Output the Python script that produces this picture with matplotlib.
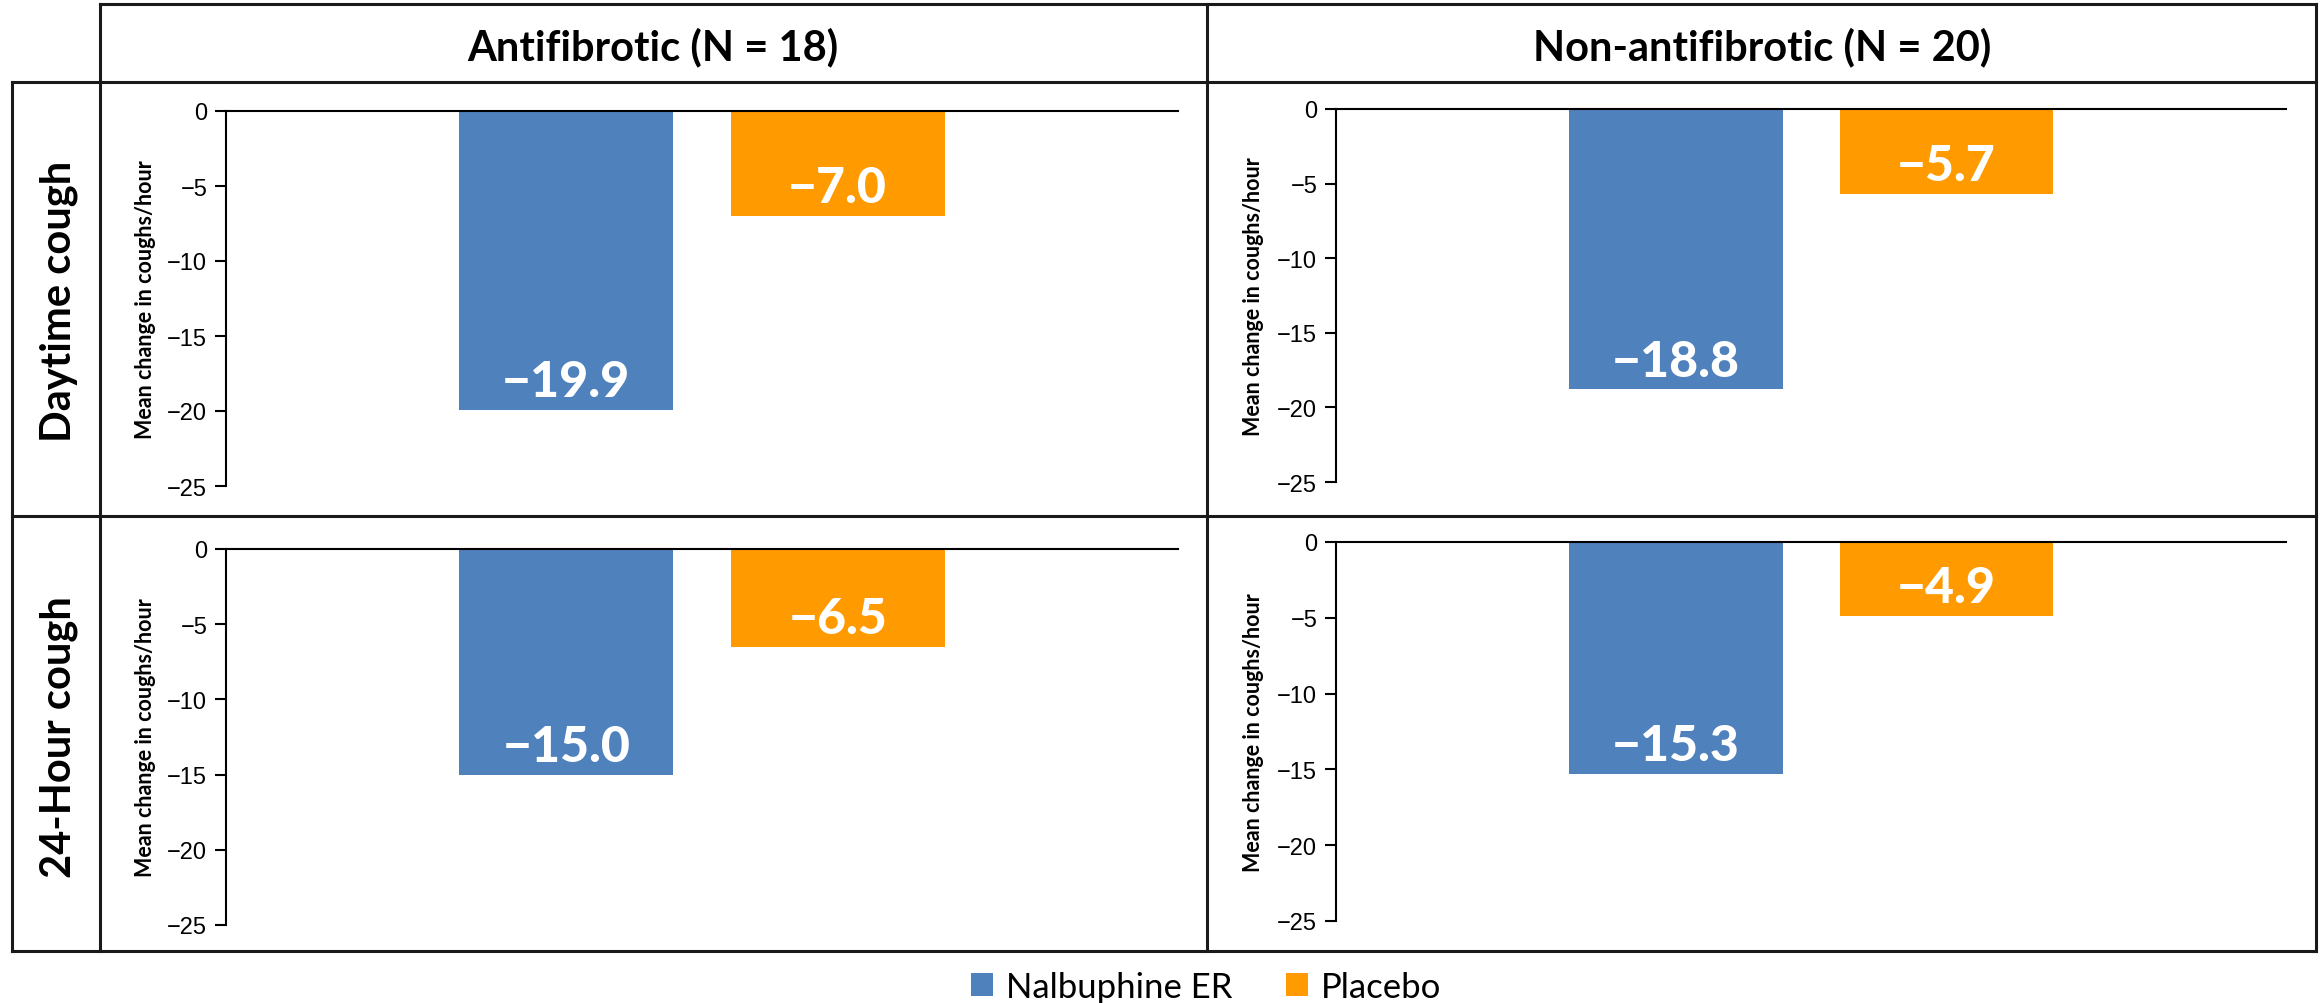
import matplotlib.pyplot as plt
from matplotlib.lines import Line2D
from matplotlib.patches import Patch

# canvas size in pixels (dpi 100)
W, H = 2323, 1004

groups = ["Antifibrotic (N = 18)", "Non-antifibrotic (N = 20)"]
endpoints = ["Daytime cough", "24-Hour cough"]
series = ["Nalbuphine ER", "Placebo"]
colors = ["#4F81BD", "#FF9A00"]

# values per group: [antifibrotic, non-antifibrotic]
daytime_nalbuphine = [-19.9, -18.8]
daytime_placebo = [-7.0, -5.7]
hour24_nalbuphine = [-15.0, -15.3]
hour24_placebo = [-6.5, -4.9]
yticks = [0, -5, -10, -15, -20, -25]

ylabel = "Mean change in coughs/hour"

LABEL_FONT = "Lato"
TICK_FONT = "Liberation Sans"

fig = plt.figure(figsize=(W / 100, H / 100), dpi=100)


def fx(x):
    return x / W


def fy(y):
    return 1 - y / H


def axes_px(x0, ytop, x1, ybot):
    return fig.add_axes([fx(x0), fy(ybot), (x1 - x0) / W, (ybot - ytop) / H])


def hline(y, x0, x1):
    fig.add_artist(Line2D([fx(x0), fx(x1)], [fy(y), fy(y)], transform=fig.transFigure,
                          color="#1a1a1a", lw=2.2, solid_capstyle="projecting"))


def vline(x, y0, y1):
    fig.add_artist(Line2D([fx(x), fx(x)], [fy(y0), fy(y1)], transform=fig.transFigure,
                          color="#1a1a1a", lw=2.2, solid_capstyle="projecting"))


# === table grid ===
hline(5, 100, 2316)
hline(83, 12, 2316)
hline(517, 12, 2316)
hline(952, 12, 2316)
vline(12, 83, 952)
vline(100, 5, 952)
vline(1207, 5, 952)
vline(2316, 5, 952)

# column headers
for g, cx in zip(groups, [653, 1762]):
    fig.text(fx(cx), fy(60), g, ha="center", va="baseline", fontsize=30,
             fontweight="bold", family=LABEL_FONT)

# row headers
for e, cy in zip(endpoints, [301, 737]):
    fig.text(fx(59), fy(cy), e, ha="center", va="center", rotation=90, fontsize=30,
             fontweight="bold", family=LABEL_FONT)

# axes boxes (pixels): x0, y of 0, x1, y of -25
boxes = {
    (0, 0): (226, 112, 1178, 487),
    (0, 1): (1336, 110, 2286, 483),
    (1, 0): (226, 550, 1178, 926),
    (1, 1): (1336, 543, 2286, 922),
}
ylabel_x = [146, 1253]

data = [[daytime_nalbuphine, daytime_placebo], [hour24_nalbuphine, hour24_placebo]]
xpos = [-0.285, 0.285]

for r in range(2):
    for c in range(2):
        x0, ytop, x1, ybot = boxes[(r, c)]
        ax = axes_px(x0, ytop, x1, ybot)
        vals = [data[r][0][c], data[r][1][c]]
        bars = ax.bar(xpos, vals, width=0.45, color=colors, zorder=2)
        for b, v in zip(bars, vals):
            ax.annotate(f"{v:.1f}".replace("-", "\u2212"), (b.get_x() + b.get_width() / 2, v),
                        xytext=(0, 10), textcoords="offset points", ha="center", va="baseline",
                        color="white", fontsize=36, fontweight="black", family=LABEL_FONT, zorder=3)
        ax.set_xlim(-1, 1)
        ax.set_ylim(-25, 0)
        ax.set_yticks(yticks)
        ax.set_xticks([])
        for s in ["right", "bottom"]:
            ax.spines[s].set_visible(False)
        ax.spines["left"].set_linewidth(1.5)
        ax.spines["top"].set_linewidth(1.5)
        ax.tick_params(axis="y", direction="out", length=8, width=1.5, pad=5.5, labelsize=17)
        for t in ax.get_yticklabels():
            t.set_family(TICK_FONT)
        ax.patch.set_alpha(0)
        fig.text(fx(ylabel_x[c]), fy((ytop + ybot) / 2), ylabel, rotation=90, ha="center",
                 va="center", fontsize=15.5, fontweight="bold", family=LABEL_FONT)

# legend
handles = [Patch(facecolor=col, edgecolor="none") for col in colors]
fig.legend(handles, series, loc="center", bbox_to_anchor=(fx(1206), fy(988)), ncol=2,
           frameon=False, prop={"family": LABEL_FONT, "size": 25}, handlelength=0.63,
           handleheight=0.63, handletextpad=0.37, columnspacing=1.55, borderpad=0)

fig.savefig("out.png", dpi=100, facecolor="white")
